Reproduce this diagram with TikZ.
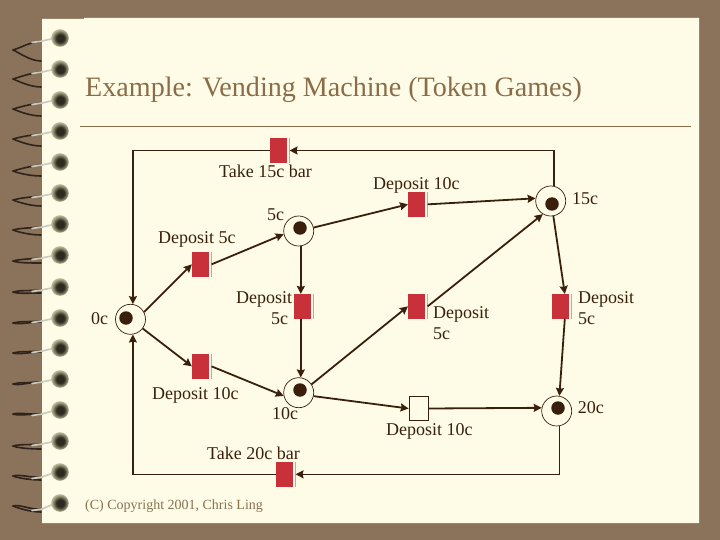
\documentclass[tikz,border=0pt]{standalone}
\usepackage{fontspec}
\setmainfont{Liberation Serif}
\usetikzlibrary{arrows.meta}
\definecolor{slate}{HTML}{8B735B}
\definecolor{cream}{HTML}{FEFCE6}
\definecolor{ink}{HTML}{3A200C}
\definecolor{barred}{HTML}{C8303A}
\definecolor{heading}{HTML}{8A6D48}
\definecolor{ballDark}{HTML}{2E2A20}
\definecolor{ballEdge}{HTML}{8E8A6C}
\definecolor{ballRim}{HTML}{BDBBA0}
\definecolor{wire}{HTML}{C9CDC0}
\definecolor{ringDark}{HTML}{2E241C}
\pgfdeclareradialshading{ballshade}{\pgfpoint{1bp}{-1bp}}{color(0bp)=(ballDark);color(11bp)=(ballDark);color(20bp)=(ballEdge);color(25bp)=(ballRim);color(50bp)=(ballRim)}
\tikzset{
  x=1pt,y=-1pt,
  place/.style={circle,draw=ink,line width=0.7pt,fill=cream,minimum size=30pt,inner sep=0pt},
  token/.style={circle,fill=ink,minimum size=13.5pt,inner sep=0pt},
  bar/.style={rectangle,draw=ink,line width=0.5pt,fill=cream,minimum width=19.3pt,minimum height=24.4pt,inner sep=0pt},
  redbar/.style={rectangle,fill=cream,minimum width=19.3pt,minimum height=24.4pt,inner sep=0pt,path picture={
    \fill[barred] (path picture bounding box.south west) rectangle ([xshift=-2.4pt]path picture bounding box.north east);
    \draw[ink,line width=1pt] (path picture bounding box.south east) -- (path picture bounding box.north east);}},
  lab/.style={inner sep=0pt,anchor=base west,yshift=-0.7pt,text=ink,font=\fontsize{18}{21.5}\selectfont},
  lab2/.style={inner sep=0pt,anchor=north west,yshift=-0.7pt,text=ink,font=\fontsize{18}{21.5}\selectfont},
  arc/.style={draw=ink,line width=1.8pt,-{Stealth[length=8pt,width=8pt,inset=1pt]}},
  ret/.style={draw=ink,line width=1.4pt,-{Stealth[length=8pt,width=8pt,inset=1pt]}},
}
\begin{document}
\begin{tikzpicture}
\path[use as bounding box,fill=slate] (0,0) rectangle (720,540);
\fill[cream] (42,19) -- (84,19) -- (84,18) -- (699,18) -- (699,523) -- (42,523) -- cycle;
% spiral binding
\foreach \yy/\t/\b/\c in {38/12/23/3,69/10/18/3,100/9/16/3,131/8/15/3,162/9/14/3,193/7/13/3,224/6/11/3,255/6/8/3,287/5/6/3,318/5/4/3,348/5/4/3,379/5/3/3,410/4/4/4,441/5/8/3,472/4/8/5,503/3/9/6}{
  \draw[ringDark,line width=1.6pt,line cap=round] (41,\yy+\b) .. controls (30,\yy+\b) and (18,\yy+\t+2) .. (13,\yy+\t);
  \draw[ringDark,line width=1.6pt,line cap=round] (13,\yy+\t) .. controls (20,\yy+\t-2) and (30,\yy+\c+1) .. (42,\yy+\c);
  \draw[wire,line width=1.7pt,line cap=round] (32,\yy+\c+1.5) -- (42,\yy+\c) -- (56,\yy);
  \shade[shading=ballshade] (60,\yy) circle (8.8);
}
% title
\node[inner sep=0pt,anchor=base west,text=heading,font=\fontsize{28.1}{30}\selectfont] (title) at (85,97) {Example: Vending Machine (Token Games)};
\coordinate (ruleL) at (80,126.5);
\coordinate (ruleR) at (691,126.5);
\draw[heading,line width=1pt] (ruleL) -- (ruleR);
% places
\node[place] (p0) at (130.5,319.3) {};
\node[place] (p5) at (298.7,231) {};
\node[place] (p10) at (298.7,392.7) {};
\node[place] (p15) at (550.7,201) {};
\node[place] (p20) at (556.7,411) {};
% tokens
\node[token] (k0) at (126,318) {};
\node[token] (k5) at (300,228) {};
\node[token] (k10) at (300,390) {};
\node[token] (k15) at (552,204) {};
\node[token] (k20) at (558,408) {};
% transitions
\node[redbar] (t15) at (279.7,150.5) {};
\node[redbar] (t5) at (201.7,264.35) {};
\node[redbar] (tm) at (303.7,306.35) {};
\node[redbar] (tl) at (201.7,366.35) {};
\node[redbar] (t20) at (285.7,474.35) {};
\node[redbar] (tt) at (417.8,204.35) {};
\node[redbar] (tc) at (417.8,306.35) {};
\node[redbar] (tr) at (561.8,306.35) {};
\node[bar] (tw) at (418.5,408.5) {};
% connectors
\draw[ret] (t15.west) -| (p0.81);
\draw[ret] (p15.78) |- (t15.east);
\draw[ret] (t20.west) -| (p0.-81);
\draw[ret] (p20.-80) |- (t20.east);
\draw[arc] (p0.28) -- (t5.west);
\draw[arc] (t5.east) -- (p5.192);
\draw[arc] (p0.-37) -- (tl.west);
\draw[arc] (tl.east) -- (p10.192);
\draw[arc] (p5.-82) -- (p5.-82 |- tm.north);
\draw[arc] (tm.south -| p10.82) -- (p10.82);
\draw[arc] (p5.13) -- (tt.west);
\draw[arc] (tt.east) -- (p15.170);
\draw[arc] (p10.33) -- (tc.west);
\draw[arc] (tc.east) -- (p15.239);
\draw[arc] (p10.-13) -- (tw.west);
\draw[arc] (tw.east) -- (p20.168);
\draw[arc] (p15.-80) -- ([xshift=3pt]tr.north);
\draw[arc] ([xshift=3pt]tr.south) -- (p20.80);
% labels
\node[lab] (l1) at (219,177) {Take 15c bar};
\node[lab] (l2) at (158,243) {Deposit 5c};
\node[lab] (l3) at (267,220) {5c};
\node[lab] (l4) at (91,324) {0c};
\node[lab2,align=right] (l5) at (236,290.4) {Deposit\\5c\hspace*{4pt}};
\node[lab] (l6) at (152,399) {Deposit 10c};
\node[lab] (l7) at (272,419) {10c};
\node[lab] (l8) at (207,459) {Take 20c bar};
\node[lab] (l9) at (373,189) {Deposit 10c};
\node[lab] (l10) at (572,204) {15c};
\node[lab2,align=left] (l11) at (433,305.4) {Deposit\\5c};
\node[lab2,align=left] (l12) at (578,290.4) {Deposit\\5c};
\node[lab] (l13) at (386,435) {Deposit 10c};
\node[lab] (l14) at (577.7,413) {20c};
\node[inner sep=0pt,anchor=base west,text=heading!80!gray,font=\fontsize{14}{16}\selectfont] (l15) at (85,509) {(C) Copyright 2001, Chris Ling};
\end{tikzpicture}
\end{document}
